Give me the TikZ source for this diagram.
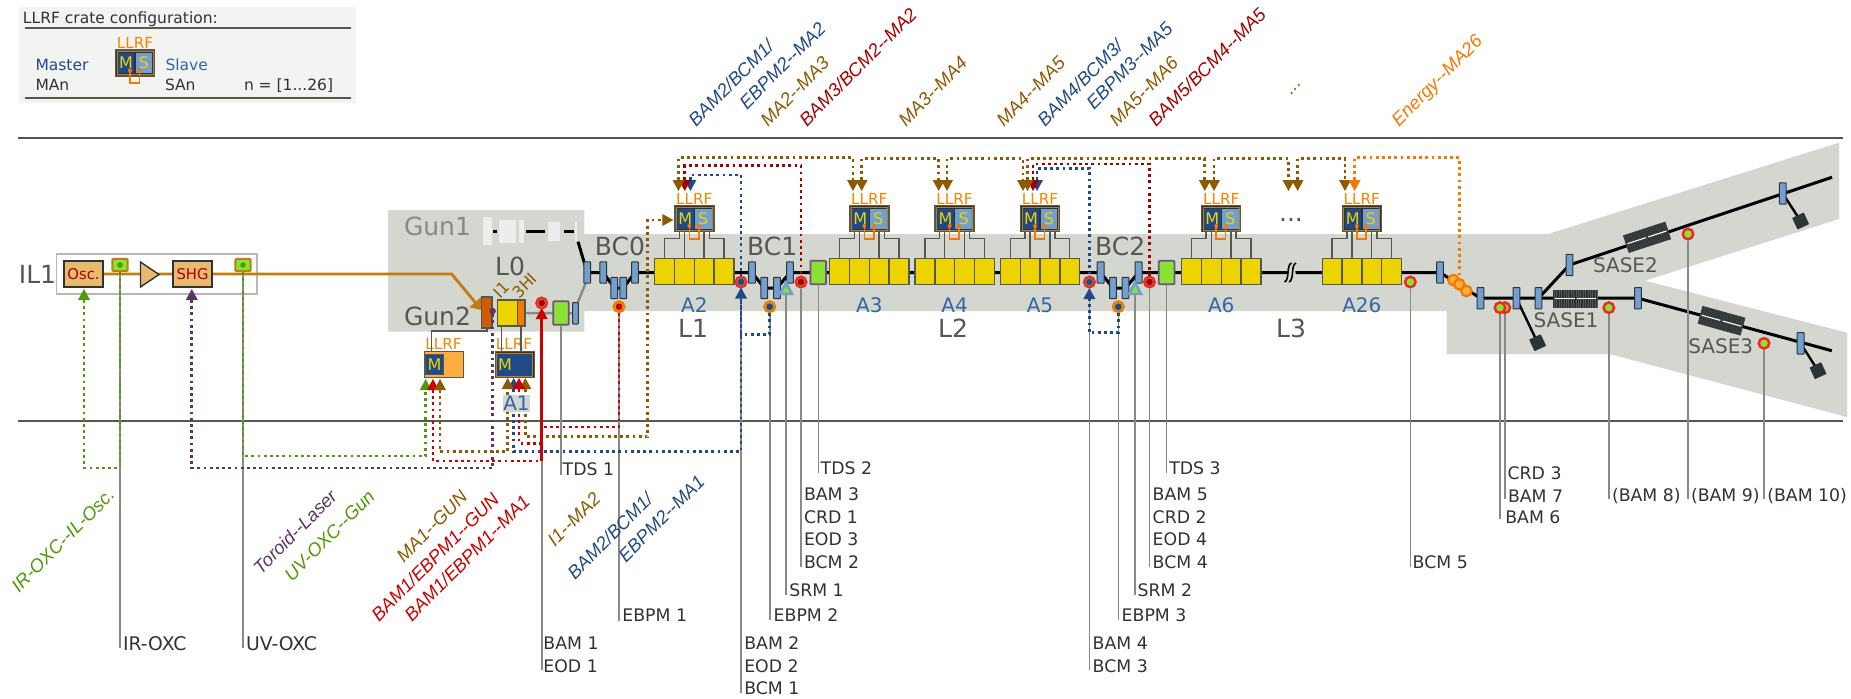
\documentclass[tikz,border=0pt]{standalone}
\usepackage{fontspec}
\setmainfont{DejaVu Sans}
\newfontfamily\rotf{Liberation Sans}
\definecolor{cBand}{HTML}{D3D7CF}
\definecolor{cLeg}{HTML}{F3F3F1}
\definecolor{cRule}{HTML}{555753}
\definecolor{cText}{HTML}{2E3436}
\definecolor{cLead}{HTML}{888A85}
\definecolor{cBrown}{HTML}{8F5902}
\definecolor{cBrownL}{HTML}{C17D11}
\definecolor{cRed}{HTML}{CC0000}
\definecolor{cRedD}{HTML}{A40000}
\definecolor{cRedL}{HTML}{EF2929}
\definecolor{cBlue}{HTML}{204A87}
\definecolor{cBlueM}{HTML}{3465A4}
\definecolor{cBlueL}{HTML}{729FCF}
\definecolor{cGreen}{HTML}{4E9A06}
\definecolor{cGreenL}{HTML}{8AE234}
\definecolor{cPurple}{HTML}{5C3566}
\definecolor{cPurpleL}{HTML}{75507B}
\definecolor{cOrange}{HTML}{F57900}
\definecolor{cOrangeD}{HTML}{CE5C00}
\definecolor{cOrangeL}{HTML}{FCAF3E}
\definecolor{cTan}{HTML}{E9B96E}
\definecolor{cYellow}{HTML}{EDD400}
\definecolor{cPale}{HTML}{EDEDEB}
\pgfdeclarelayer{back}
\pgfdeclarelayer{under}
\pgfsetlayers{back,under,main}
\tikzset{
  fsmall/.style={font=\fontsize{8.65pt}{10pt}\selectfont},
  lab/.style={fsmall,inner sep=0,outer sep=0,anchor=base west,yshift=-3.15pt,text=cText},
  labbig/.style={font=\fontsize{9.4pt}{11pt}\selectfont,inner sep=0,outer sep=0,anchor=base west,yshift=-3.4pt,text=cText},
  legtxt/.style={font=\fontsize{7.75pt}{9pt}\selectfont,inner sep=0,outer sep=0,anchor=base west,text=cText},
  bigtxt/.style={font=\fontsize{12.5pt}{14pt}\selectfont,inner sep=0,outer sep=0,text=cRule},
  modtxt/.style={font=\fontsize{10pt}{12pt}\selectfont,inner sep=0,outer sep=0,text=cBlueM},
  rlab/.style={font=\rotf\itshape\fontsize{9.25pt}{11pt}\selectfont,inner sep=0,outer sep=0,anchor=base west,rotate=45},
  cavlab/.style={font=\fontsize{8pt}{9pt}\selectfont,inner sep=0,outer sep=0,anchor=base west,rotate=45,text=cBrown},
  llrftxt/.style={font=\fontsize{7.6pt}{9pt}\selectfont,inner sep=0,outer sep=0,anchor=base,text=cOrange!90!yellow},
  rule/.style={draw=cRule,line width=0.65pt},
  leader/.style={draw=cLead,line width=0.8pt},
  dots/.style={line width=1.35pt,dash pattern=on 1.4pt off 1.7pt},
  cable/.style={draw=cRule,line width=0.75pt},
  beam/.style={draw=black,line width=1.5pt},
  laser/.style={draw=cBrownL,line width=1.4pt},
  orangeu/.style={draw=cOrange,line width=0.8pt},
  cratebox/.style={rectangle,fill=cText,draw=cRule,line width=0.7pt,minimum width=19.5pt,minimum height=13pt,inner sep=0},
  cratetan/.style={rectangle,draw=cBrownL,line width=0.35pt,minimum width=18pt,minimum height=11.5pt,inner sep=0},
  mbox/.style={rectangle,fill=cBlue,minimum width=8.3pt,minimum height=10pt,inner sep=0,text=cYellow,font=\fontsize{8pt}{9pt}\selectfont},
  sbox/.style={rectangle,fill=cBlueL,minimum width=8.3pt,minimum height=10pt,inner sep=0,text=cYellow,font=\fontsize{8pt}{9pt}\selectfont},
  cav/.style={rectangle,fill=cYellow,draw=cRule,line width=0.7pt,minimum width=9.9pt,minimum height=13.2pt,inner sep=0},
  dipo/.style={rectangle,fill=cBlueL,draw=cText,line width=0.5pt,minimum width=3.4pt,minimum height=10.7pt,inner sep=0,rounded corners=0.3pt},
  bamc/.style={circle,draw=cRedL,fill=cGreenL,line width=1.25pt,minimum size=5.25pt,inner sep=0},
  ebpmc/.style={circle,draw=cOrange,fill=cGreenL,line width=1.25pt,minimum size=5.25pt,inner sep=0},
  energyc/.style={circle,draw=cOrange,fill=cOrangeL,line width=1.1pt,minimum size=5.25pt,inner sep=0},
  tdsb/.style={rectangle,fill=cGreenL,draw=cPurpleL,line width=0.9pt,minimum width=7.8pt,minimum height=11.8pt,inner sep=0,rounded corners=0.5pt},
  oxcb/.style={rectangle,fill=cGreenL,draw=cBrownL,line width=1pt,minimum width=7.6pt,minimum height=6.2pt,inner sep=0,rounded corners=0.6pt},
  lasbox/.style={rectangle,fill=cTan,draw=cText,line width=0.7pt,minimum width=19.5pt,minimum height=13pt,inner sep=0,text=cRedD,font=\fontsize{7.4pt}{9pt}\selectfont},
  dumpb/.style={rectangle,fill=cText,minimum size=6.4pt,inner sep=0,rounded corners=0.3pt},
  undb/.style={rectangle,fill=cText,minimum width=22.3pt,minimum height=9.2pt,inner sep=0},
}
\newcommand{\lab}[4]{\node[lab] (#1) at (#2,#3) {#4};}
\newcommand{\dip}[3]{\node[dipo] (#1) at (#2,#3) {};}
\newcommand{\leadto}[2]{\draw[leader] (#1) -- (#1 |- 0,#2);}
\newcommand{\route}[4]{\draw[dots,#1] (#2) -- (#2 |- 0,#4) -| (#3);}
\newcommand{\bam}[4]{\node[bamc] (#1) at (#2,#3) {};\fill[#4] (#1) circle[radius=1.7pt];}
\newcommand{\bamplain}[3]{\node[bamc] (#1) at (#2,#3) {};}
\newcommand{\ebpm}[4]{\node[ebpmc] (#1) at (#2,#3) {};\fill[#4] (#1) circle[radius=1.7pt];}
\newcommand{\arrD}[3]{\fill[#3] (#2,191) -- (#2-6,180) -- (#2+6,180) -- cycle;\coordinate (#1) at (#2,180);}
\newcommand{\arrU}[4]{\fill[#4] (#2,#3) -- (#2-6,#3+11) -- (#2+6,#3+11) -- cycle;\coordinate (#1) at (#2,#3+11);}
\newcommand{\crate}[3]{%
  \node[cratebox] (#1) at (#2,#3) {};
  \node[cratetan] (#1T) at (#1) {};
  \node[mbox,xshift=-4.5pt] (#1M) at (#1) {M};
  \node[sbox,xshift=4.5pt] (#1S) at (#1) {S};
  \node[llrftxt,yshift=7.25pt] (#1L) at (#1) {LLRF};
  \coordinate (#1p) at (#2-5,#3+7.3);
  \coordinate (#1q) at (#2+4.4,#3+7.3);
  \draw[orangeu] (#1p) -- ++(0,12.7) -| (#1q);
  \fill[cOrange] (#1p) circle[radius=1pt] (#1q) circle[radius=1pt];
}
\newcommand{\module}[3]{%
  \crate{#1}{#2}{218.7}
  \node[cav] (#1c1) at (#2-29.7,271.5) {};
  \node[cav] (#1c2) at (#2-9.9,271.5) {};
  \node[cav] (#1c3) at (#2+9.9,271.5) {};
  \node[cav] (#1c4) at (#2+29.7,271.5) {};
  \draw[cable] (#1c1.north) -- ++(0,-19.3) -- ++(14.7,0) -- ++(0,-7.3);
  \draw[cable] (#1c2.north) -- ++(0,-26.6);
  \draw[cable] (#1c3.north) -- ++(0,-26.6);
  \draw[cable] (#1c4.north) -- ++(0,-19.3) -- ++(-14.7,0) -- ++(0,-7.3);
  \node[modtxt] (#1t) at (#2,305) {#3};
}
\newcommand{\srm}[2]{%
  \fill[cBlueL] (#2,280) -- (#2-8,295) -- (#2+8,295) -- cycle;
  \fill[cGreenL] (#2,286) -- (#2-3.6,292.5) -- (#2+3.6,292.5) -- cycle;
  \coordinate (#1) at (#2,295);
}
\newcommand{\und}[4]{%
  \begin{scope}[shift={(#2,#3)},rotate=#4]
    \node[undb,transform shape] (#1) at (0,0) {};
    \foreach \k in {-9,...,9} {\draw[cRule,line width=0.2pt] (\k*2.4,-9) -- (\k*2.4,9);}
    \draw[white,line width=0.55pt] (-20.5,0) -- (-1.2,0) (1.2,0) -- (20.5,0);
  \end{scope}
}
\begin{document}
\begin{tikzpicture}[x=0.5pt,y=-0.5pt]
\useasboundingbox (0,0) rectangle (1851,698);
\begin{pgfonlayer}{back}
  \fill[white] (0,0) rectangle (1851,698);
  \fill[cBand] (388,210) -- (584.4,210) -- (584.4,234) -- (1548,234) -- (1839,142.7) -- (1839,219) -- (1645,280.7)
     -- (1847,332.7) -- (1847,417) -- (1609.6,354) -- (1446.7,354) -- (1446.7,311) -- (584.4,311) -- (584.4,331.7) -- (388,331.7) -- cycle;
  \fill[cLeg] (19,7) rectangle (356,103);
  \draw[rule] (25,28) -- (351,28);
  \draw[rule] (25,98) -- (351,98);
  \draw[rule] (18,138) -- (1843,138);
  \draw[rule] (18,421) -- (1843,421);
  \draw[fill=white,draw=cLead!60,line width=0.7pt] (56.5,254) rectangle (257,294);
\end{pgfonlayer}

% legend
\node[legtxt] (legTitle) at (23,23) {LLRF crate configuration:};
\node[legtxt,text=cBlue] (legMaster) at (35.5,70) {Master};
\node[legtxt] (legMAn) at (35.5,90) {MAn};
\node[legtxt,text=cBlueM] (legSlave) at (165.5,70) {Slave};
\node[legtxt] (legSAn) at (165,90) {SAn};
\node[legtxt] (legN) at (244,90) {n = [1...26]};
\crate{leg}{135}{63}

% injector laser
\node[bigtxt] (il1) at (37.5,274) {IL1};
\node[lasbox] (osc) at (83.5,274) {Osc.};
\node[lasbox] (shg) at (192.5,274) {SHG};
\node[oxcb] (oxc1) at (120,265) {};
\fill[cGreen] (oxc1) circle[radius=1.4pt];
\node[oxcb] (oxc2) at (243,265) {};
\fill[cGreen] (oxc2) circle[radius=1.4pt];
\draw[fill=cTan,draw=cText,line width=0.7pt] (140.5,262) -- (159,274.5) -- (140.5,287) -- cycle;
\coordinate (laserKnee) at (451.7,274);
\coordinate (gunTip) at (477,304.5);
\begin{pgfonlayer}{under}
  \draw[laser] (osc.center) -- (laserKnee) -- (gunTip);
\end{pgfonlayer}
\fill[cBrownL] (481.7,310) -- (469.3,307.3) -- (480.7,297.3) -- cycle;

% gun 1 (pale)
\node[bigtxt,text=cLead] (gun1) at (437.5,226) {Gun1};
\fill[cPale] (483,216.7) rectangle (491.5,245);
\fill[cPale] (499,220) rectangle (516,242.7);
\fill[cPale] (519,220) rectangle (524,242.7);
\fill[cPale] (548.4,221.7) rectangle (559.5,240.7);
\fill[cPale] (574.5,221.7) rectangle (577,240.7);
\draw[black,line width=1.3pt] (493,231.7) -- (497,231.7) (526,231.7) -- (545,231.7) (563.5,231.7) -- (573.5,231.7);

% gun 2 and L0
\node[bigtxt] (gun2) at (437.5,316.7) {Gun2};
\node[bigtxt] (l0) at (510,266.7) {L0};
\node[rectangle,fill=cOrangeD,draw=cRule,line width=0.7pt,minimum width=5.2pt,minimum height=15.5pt,inner sep=0] (gun) at (486.8,312.5) {};
\node[cav,minimum width=10pt,minimum height=13pt] (i1) at (507.7,313) {};
\node[rectangle,fill=cOrange,draw=cRule,line width=0.6pt,minimum width=3.7pt,minimum height=13pt,inner sep=0] (hi) at (521.3,313) {};
\node[cavlab] (i1t) at (500,299) {I1};
\node[cavlab] (hit) at (519,299) {3HI};
\fill[cPurple] (492.7,311) circle[radius=1.6pt];
\coordinate (toroid) at (492.7,311);
\node[tdsb] (tds1) at (561,313) {};
\node[dipo,minimum width=2.8pt] (dl0) at (575.5,313.3) {};
\begin{pgfonlayer}{under}
  \draw[draw=cLead,line width=1.2pt] (hi) -- (dl0);
  \draw[draw=cLead,line width=1.2pt] (578,302) -- (585.7,283);
  \draw[beam] (578,241.7) -- (587.2,272.5);
\end{pgfonlayer}

% LLRF crates of gun and A1
\node[cratebox,fill=cOrangeL] (gunCrate) at (443.8,364.7) {};
\node[mbox,minimum width=8.8pt,draw=cRule,line width=0.35pt] (gunCrateM) at (434.5,364.7) {M};
\node[llrftxt] (gunCrateL) at (443.5,349.5) {LLRF};
\node[cratebox] (a1Crate) at (514.7,364.7) {};
\fill[cBlue] (497,354) rectangle (532.5,375.5);
\node[cratetan] (a1CrateT) at (a1Crate) {};
\node[inner sep=0,text=cYellow,font=\fontsize{8pt}{9pt}\selectfont] (a1CrateM) at (505,364.7) {M};
\node[llrftxt] (a1CrateL) at (514,349.5) {LLRF};
\coordinate (gunCableEnd) at (431.7,351.7);
\draw[cable] (gun.south) -- (gun.south |- 0,331) -| (gunCableEnd);
\coordinate (i1CableStart) at (501.7,326);
\coordinate (hiCableStart) at (521,326);
\draw[cable] (i1CableStart) -- (i1CableStart |- a1Crate.north);
\draw[cable] (hiCableStart) -- (hiCableStart |- a1Crate.north);

% main linac
\dip{bc0a}{587.2}{272.5}\dip{bc0b}{603.3}{272.5}\dip{bc0c}{614.3}{288}\dip{bc0d}{623.3}{288}\dip{bc0e}{635}{272.5}
\dip{bc1a}{752}{272.5}\dip{bc1b}{764.3}{288}\dip{bc1c}{777}{288}\dip{bc1d}{790}{272.5}
\dip{bc2a}{1100.6}{272.5}\dip{bc2b}{1113}{288}\dip{bc2c}{1125.5}{288}\dip{bc2d}{1138.6}{272.5}
\dip{d26}{1440}{272.5}\dip{e1}{1480.5}{298.2}\dip{e2}{1516.4}{298.2}\dip{e3}{1538.5}{298.2}\dip{e4}{1638}{298.2}
\dip{u1}{1569.4}{265}\dip{u2}{1782.8}{193.5}\dip{l2}{1800.6}{343.3}
\coordinate (uEnd) at (1832,177.3);
\coordinate (lEnd) at (1831.8,350.7);
\begin{pgfonlayer}{under}
  \draw[beam] (bc0a.center) -- (bc0b.center) -- (bc0c.center) -- (bc0d.center) -- (bc0e.center) -- (bc1a.center)
     -- (bc1b.center) -- (bc1c.center) -- (bc1d.center) -- (bc2a.center) -- (bc2b.center) -- (bc2c.center) -- (bc2d.center)
     -- (d26.center) -- (e1.center) -- (e4.center) -- (lEnd);
  \draw[beam] (e3.center) -- (u1.center) -- (uEnd);
\end{pgfonlayer}
\module{a2}{694.3}{A2}
\module{a3}{869.3}{A3}
\module{a4}{954.6}{A4}
\module{a5}{1040}{A5}
\module{a6}{1221.2}{A6}
\module{a26}{1361.8}{A26}
\fill[cBand] (1286,260) -- (1294,260) -- (1297,285) -- (1289,285) -- cycle;
\draw[black,line width=0.8pt] (1284.5,282) .. controls (1290,280) and (1286,265) .. (1291.5,263);
\draw[black,line width=0.8pt] (1289,282) .. controls (1294.5,280) and (1290.5,265) .. (1296,263);
\node[bigtxt,text=cRule] (bc0t) at (620,246.7) {BC0};
\node[bigtxt] (bc1t) at (772.2,246.7) {BC1};
\node[bigtxt] (bc2t) at (1120.2,246.7) {BC2};
\node[bigtxt] (l1) at (693,328) {L1};
\node[bigtxt] (l2t) at (953,328) {L2};
\node[bigtxt] (l3) at (1291,328) {L3};
\node[bigtxt,anchor=base] (moreDots) at (1291,221) {...};
\node[tdsb] (tds2) at (818.3,272.5) {};
\node[tdsb] (tds3) at (1166.6,272.5) {};
\srm{srm1}{786}
\srm{srm2}{1135}

% monitors
\bam{bam1}{541.7}{303}{cRedD}
\bam{bam2}{741}{282}{cBlue}
\bam{bam3}{801}{282}{cRedD}
\bam{bam4}{1089.4}{282}{cBlue}
\bam{bam5}{1149.5}{282}{cRedD}
\ebpm{ebpm1}{619}{306.7}{cRed}
\ebpm{ebpm2}{769.7}{306.7}{cBlue}
\ebpm{ebpm3}{1118.3}{306.7}{cBlue}
\bamplain{bcm5}{1410.3}{282}
\bamplain{bam6}{1504.8}{307.7}
\bamplain{bam7}{1500}{307.7}
\bamplain{bam8}{1608.8}{307.7}
\bamplain{bam9}{1688}{234}
\bamplain{bam10}{1764}{343.3}
\node[energyc] (en1) at (1453.4,280) {};
\node[energyc] (en2) at (1459.3,284.3) {};
\node[energyc] (en3) at (1466.4,291) {};

% undulators, dumps
\und{sase1}{1575.7}{298.8}{0}
\und{sase2}{1647}{237.3}{18}
\und{sase3}{1721.5}{320.7}{-15.5}
\node[bigtxt,font=\fontsize{10pt}{12pt}\selectfont] (sase1t) at (1566,320) {SASE1};
\node[bigtxt,font=\fontsize{10pt}{12pt}\selectfont] (sase2t) at (1625.4,265.7) {SASE2};
\node[bigtxt,font=\fontsize{10pt}{12pt}\selectfont] (sase3t) at (1720.7,346) {SASE3};
\node[dumpb,rotate=25] (dump1) at (1537.6,342.7) {};
\node[dumpb,rotate=25] (dump2) at (1800.6,221) {};
\node[dumpb,rotate=25] (dump3) at (1818,370.7) {};
\begin{pgfonlayer}{under}
  \draw[black,line width=1.2pt] (e2.center) -- (dump1.center);
  \draw[black,line width=1.2pt] (u2.center) -- (dump2.center);
  \draw[black,line width=1.2pt] (l2.center) -- (dump3.center);
\end{pgfonlayer}

% leader lines
\begin{pgfonlayer}{under}
  \leadto{oxc1}{647.7}
  \leadto{oxc2}{647.7}
  \leadto{bam1}{670}
  \leadto{tds1}{475}
  \leadto{ebpm1}{621}
  \leadto{bam2}{693}
  \leadto{ebpm2}{620}
  \leadto{srm1}{595}
  \leadto{bam3}{566.7}
  \leadto{tds2}{473}
  \leadto{bam4}{670}
  \leadto{ebpm3}{620}
  \leadto{srm2}{595}
  \leadto{bam5}{566.7}
  \leadto{tds3}{473}
  \leadto{bcm5}{566.7}
  \leadto{bam7}{519.3}
  \leadto{bam6}{499.3}
  \leadto{bam8}{499.3}
  \leadto{bam9}{499.3}
  \leadto{bam10}{499.3}
\end{pgfonlayer}

% leader labels
\node[labbig] (tIRO) at (123,643.5) {IR-OXC};
\node[labbig] (tUVO) at (246,643.5) {UV-OXC};
\lab{tBam1}{543.4}{643.3}{BAM 1}
\lab{tEod1}{543.4}{665.7}{EOD 1}
\lab{tTds1}{562.7}{469}{TDS 1}
\lab{tEbpm1}{622.4}{615.5}{EBPM 1}
\lab{tBam2}{744.3}{643.3}{BAM 2}
\lab{tEod2}{744.3}{665.7}{EOD 2}
\lab{tBcm1}{744.3}{687.7}{BCM 1}
\lab{tEbpm2}{773.7}{615.3}{EBPM 2}
\lab{tSrm1}{789.3}{590.3}{SRM 1}
\lab{tBam3}{804}{494.3}{BAM 3}
\lab{tCrd1}{804}{516.7}{CRD 1}
\lab{tEod3}{804}{539.3}{EOD 3}
\lab{tBcm2}{804}{561.7}{BCM 2}
\lab{tTds2}{820.7}{468.3}{TDS 2}
\lab{tBam4}{1092.7}{643.3}{BAM 4}
\lab{tBcm3}{1092.7}{665.7}{BCM 3}
\lab{tEbpm3}{1121.7}{615.3}{EBPM 3}
\lab{tSrm2}{1137.7}{590.3}{SRM 2}
\lab{tBam5}{1152.7}{494.3}{BAM 5}
\lab{tCrd2}{1152.7}{516.7}{CRD 2}
\lab{tEod4}{1152.7}{539.3}{EOD 4}
\lab{tBcm4}{1152.7}{561.7}{BCM 4}
\lab{tTds3}{1169.3}{468.3}{TDS 3}
\lab{tBcm5}{1412.7}{561.7}{BCM 5}
\lab{tCrd3}{1507.6}{472.7}{CRD 3}
\lab{tBam7}{1508}{495.7}{BAM 7}
\lab{tBam6}{1505.3}{517}{BAM 6}
\lab{tBam8}{1612}{495}{(BAM 8)}
\lab{tBam9}{1691}{495}{(BAM 9)}
\lab{tBam10}{1767.3}{495}{(BAM 10)}

% arrowheads
\arrU{arrOsc}{84}{289}{cGreen}
\arrU{arrShg}{191.8}{289}{cPurple}
\arrU{arrGunG}{425.7}{379}{cGreen}
\arrU{arrGunR}{433}{379}{cRed}
\arrU{arrGunB}{440}{379}{cBrown}
\arrU{arrA1u}{513.7}{378}{cBlue}
\arrU{arrA1b}{507.7}{378}{cBrown}
\arrU{arrA1c}{525.3}{378}{cBrown}
\arrU{arrA1r}{519}{378}{cRed}
\arrU{arrBam1}{541.7}{308}{cRed}
\arrU{arrBam2}{741}{287.5}{cBlue}
\arrU{arrBam4}{1089.4}{288}{cBlue}
\arrD{a2u}{690.4}{cBlue}
\arrD{a2r}{684.8}{cRedD}
\arrD{a2b}{678.5}{cBrown}
\arrD{a3a}{853}{cBrown}
\arrD{a3b}{861.6}{cBrown}
\arrD{a4a}{938.7}{cBrown}
\arrD{a4b}{947}{cBrown}
\arrD{a5u}{1037}{cBlue}
\arrD{a5r}{1033}{cRedD}
\arrD{a5a}{1023}{cBrown}
\arrD{a5b}{1027.5}{cBrown}
\arrD{a6a}{1204.8}{cBrown}
\arrD{a6b}{1214}{cBrown}
\arrD{dA}{1288.5}{cBrown}
\arrD{dB}{1297.6}{cBrown}
\arrD{a26a}{1345}{cBrown}
\arrD{a26o}{1354.6}{cOrange}
\fill[cBrown] (673.4,220) -- (662.3,214) -- (662.3,226) -- cycle;
\coordinate (arrSide) at (662.3,220);
\coordinate (sideKnee) at (647.7,220);

% dotted synchronisation routes, top
\route{cBlue}{a2u}{bam2}{175}
\route{cBlue}{a5u}{bam4}{168.3}
\route{cRedD}{a2r}{bam3}{165.7}
\route{cRedD}{a5r}{bam5}{164}
\route{cBrown}{a2b}{a3a}{157.7}
\route{cBrown}{a3b}{a4a}{158.5}
\route{cBrown}{a4b}{a5a}{158.5}
\route{cBrown}{a5b}{a6a}{158.5}
\route{cBrown}{a6b}{dA}{158.5}
\route{cBrown}{dB}{a26a}{158.5}
\route{cOrange}{a26o}{en2}{157.7}

% dotted routes, bottom
\coordinate (solidEnd) at (541.7,461);
\coordinate (joinA1) at (541.7,443.3);
\coordinate (joinEbpm) at (541.7,427);
\route{cGreen}{arrOsc}{oxc1}{468}
\route{cPurple}{arrShg}{toroid}{468}
\route{cGreen}{oxc2}{arrGunG}{456}
\draw[dots,cRed] (arrGunR) |- (solidEnd);
\route{cBrown}{arrGunB}{arrA1b}{451.7}
\route{cBlue}{arrA1u}{arrBam2}{451.7}
\draw[dots,cRed] (arrA1r) |- (joinA1);
\draw[dots,cBrown] (arrA1c) -- (arrA1c |- 0,436.7) -| (sideKnee) -- (arrSide);
\draw[dots,cRed] (ebpm1) |- (joinEbpm);
\route{cBlue}{ebpm2}{arrBam2}{334.3}
\route{cBlue}{ebpm3}{arrBam4}{332.7}
\draw[cRed,line width=1.5pt] (arrBam1) -- (solidEnd);
\node[modtxt,fill=cBand,minimum width=13.5pt,minimum height=8.5pt] (a1t) at (516.5,403.5) {A1};

% rotated link labels, top
\node[rlab,text=cBlue] (r01) at (696,127) {BAM2/BCM1/};
\node[rlab,text=cBlue] (r02) at (747,110) {EBPM2-{}-MA2};
\node[rlab,text=cBrown] (r03) at (768,127) {MA2-{}-MA3};
\node[rlab,text=cRedD] (r04) at (807,127) {BAM3/BCM2-{}-MA2};
\node[rlab,text=cBrown] (r05) at (906,127) {MA3-{}-MA4};
\node[rlab,text=cBrown] (r06) at (1004,127) {MA4-{}-MA5};
\node[rlab,text=cBlue] (r07) at (1045,127) {BAM4/BCM3/};
\node[rlab,text=cBlue] (r08) at (1094,110) {EBPM3-{}-MA5};
\node[rlab,text=cBrown] (r09) at (1117,127) {MA5-{}-MA6};
\node[rlab,text=cRedD] (r10) at (1156,127) {BAM5/BCM4-{}-MA5};
\node[rlab,text=cBrown] (r11) at (1291,95) {...};
\node[rlab,text=cOrange] (r12) at (1399,127) {Energy-{}-MA26};

% rotated link labels, bottom
\node[rlab,text=cGreen] (s01) at (19,593) {IR-OXC-{}-IL-Osc.};
\node[rlab,text=cPurple] (s02) at (261,575) {Toroid-{}-Laser};
\node[rlab,text=cGreen] (s03) at (292,582) {UV-OXC-{}-Gun};
\node[rlab,text=cBrown] (s04) at (404,563) {MA1-{}-GUN};
\node[rlab,text=cRed] (s05) at (379,622) {BAM1/EBPM1-{}-GUN};
\node[rlab,text=cRed] (s06) at (412,622) {BAM1/EBPM1-{}-MA1};
\node[rlab,text=cBrown] (s07) at (555,547) {I1-{}-MA2};
\node[rlab,text=cBlue] (s08) at (575,580) {BAM2/BCM1/};
\node[rlab,text=cBlue] (s09) at (626,563) {EBPM2-{}-MA1};
\end{tikzpicture}
\end{document}
